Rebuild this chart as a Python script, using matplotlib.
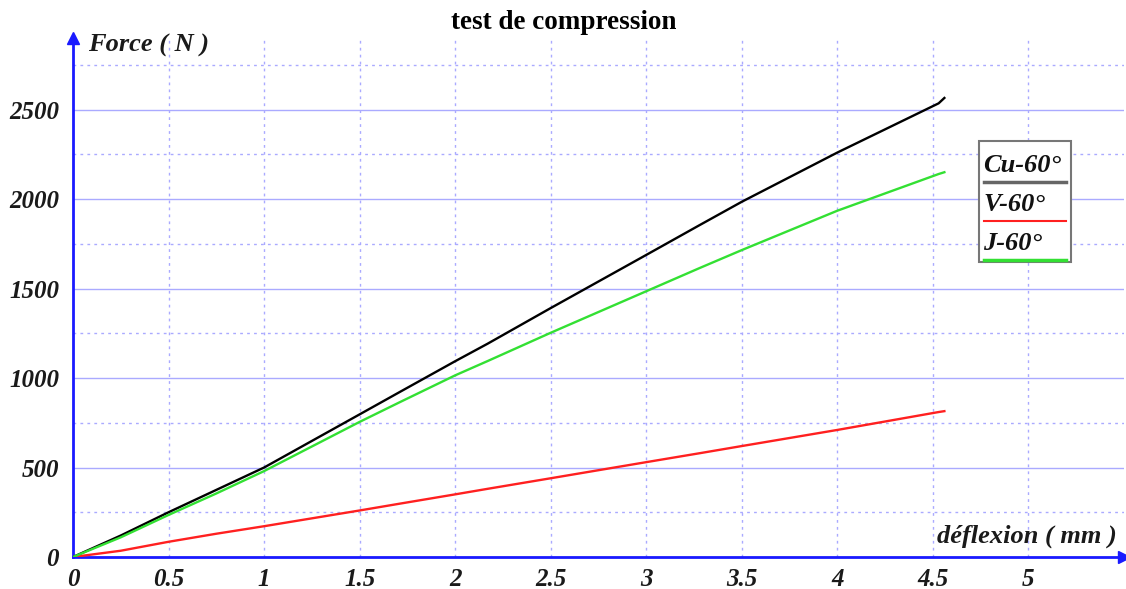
import numpy as np
import matplotlib.pyplot as plt
from matplotlib.patches import Rectangle
from matplotlib.lines import Line2D

# deflection (mm) and force (N) readings for the three specimens
defl = [0, 0.25, 0.5, 0.75, 1, 1.5, 1.71, 2, 2.17, 2.5, 3, 3.28, 3.5, 4, 4.53, 4.56]
force_cu = [0, 120, 250, 375, 500, 797, 922, 1094, 1192, 1391, 1688, 1855, 1985, 2260, 2535, 2565]
force_v = [0, 35, 85, 130, 172, 260, 298, 350, 381, 440, 530, 580, 620, 710, 810, 815]
force_j = [0, 110, 235, 355, 480, 755, 865, 1015, 1095, 1253, 1485, 1615, 1715, 1935, 2140, 2150]

series = [("Cu-60°", force_cu, "black"),
          ("V-60°", force_v, "#ff2020"),
          ("J-60°", force_j, "#33e033")]

xticks = np.arange(0, 5.01, 0.5)
yticks = np.arange(0, 2501, 500)

serif = "Liberation Serif"
blue = "#1a1aff"
grid_blue = "#aaaaff"
ink = "#1a1a1a"

fig = plt.figure(figsize=(11.26, 5.89), dpi=100)
ax = fig.add_axes([73 / 1126, 32 / 589, 1051 / 1126, 519 / 589])
ax.set_xlim(0, 5.5)
ax.set_ylim(0, 2900)

for name, f, c in series:
    ax.plot(defl, f, color=c, lw=1.7, zorder=3)

# grid: dotted verticals every 0.5, solid horizontals every 500, dotted in between
ax.set_xticks(xticks)
ax.set_yticks(yticks)
ax.set_yticks(np.arange(250, 2900, 500), minor=True)
ax.grid(axis="x", which="major", color=grid_blue, ls=(0, (2, 3)), lw=1)
ax.grid(axis="y", which="major", color=grid_blue, ls="-", lw=1)
ax.grid(axis="y", which="minor", color=grid_blue, ls=(0, (2, 3)), lw=1)
ax.tick_params(which="both", length=0)

tick_font = dict(fontfamily=serif, fontstyle="italic", fontweight="bold",
                 fontsize=18, color=ink)
ax.set_xticklabels(["%g" % v for v in xticks], **tick_font)
ax.set_yticklabels(["%d" % v for v in yticks], **tick_font)
ax.tick_params(axis="x", pad=8)
ax.tick_params(axis="y", pad=10)

for s in ["top", "right"]:
    ax.spines[s].set_visible(False)
for s in ["left", "bottom"]:
    ax.spines[s].set_color(blue)
    ax.spines[s].set_linewidth(2)

# arrow heads at the ends of both axes
ax.plot(1, 0, ">", color=blue, ms=9, transform=ax.transAxes, clip_on=False, zorder=5)
ax.plot(0, 1, "^", color=blue, ms=9, transform=ax.transAxes, clip_on=False, zorder=5)

ax.text(0.014, 0.985, "Force ( N )", transform=ax.transAxes, ha="left", va="center",
        fontfamily=serif, fontstyle="italic", fontweight="bold", fontsize=19, color=ink)
ax.text(0.993, 0.04, "déflexion ( mm )", transform=ax.transAxes, ha="right", va="center",
        fontfamily=serif, fontstyle="italic", fontweight="bold", fontsize=19, color=ink)

fig.text(0.501, 0.962, "test de compression", ha="center", va="center",
         fontfamily=serif, fontweight="heavy", fontsize=19.5)

# legend box: name above a line sample
lx0, lx1 = 0.862, 0.95
ly0, ly1 = 0.568, 0.802
ax.add_patch(Rectangle((lx0, ly0), lx1 - lx0, ly1 - ly0, transform=ax.transAxes,
                       fill=True, facecolor="white", edgecolor="#777777", lw=1.5,
                       zorder=6, clip_on=False))
for i, (name, f, c) in enumerate(series):
    ty = ly1 - 0.048 - i * 0.075
    ax.text(lx0 + 0.004, ty, name, transform=ax.transAxes, ha="left", va="center",
            fontfamily=serif, fontstyle="italic", fontweight="bold", fontsize=19,
            color="#111111", zorder=7)
    ly = ty - 0.032
    lc = "#666666" if c == "black" else c
    ax.add_line(Line2D([lx0 + 0.005, lx1 - 0.005], [ly, ly], transform=ax.transAxes,
                       color=lc, lw=2.5 if c != "#ff2020" else 1.5, zorder=7))

fig.savefig("out.png", dpi=100)
